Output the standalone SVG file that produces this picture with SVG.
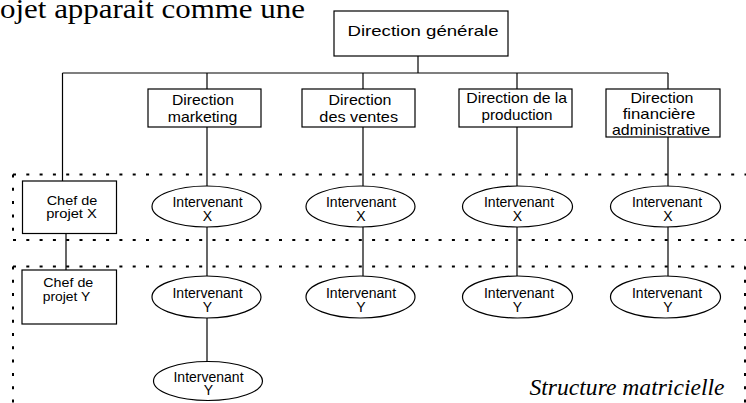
<svg xmlns="http://www.w3.org/2000/svg" width="746" height="403" viewBox="0 0 746 403">
<style>
.box{fill:#fff;stroke:#000;stroke-width:1.2}
.ln{stroke:#000;stroke-width:1.2;fill:none}
.dot{stroke:#000;stroke-width:2;stroke-dasharray:3 10.3;fill:none}
.t{font-family:"Liberation Sans",Arial,sans-serif;font-size:14.5px;text-anchor:middle;fill:#000}
.e{font-family:"Liberation Sans",Arial,sans-serif;font-size:14px;text-anchor:middle;fill:#000}
.c{font-family:"Liberation Sans",Arial,sans-serif;font-size:13.5px;text-anchor:middle;fill:#000}
.serif{font-family:"Liberation Serif","Times New Roman",serif;fill:#000}
</style>
<rect width="746" height="403" fill="#fff"/>
<text class="serif" x="0" y="18" font-size="28" textLength="305" lengthAdjust="spacingAndGlyphs">ojet apparait comme une</text>
<g id="bands">
<line class="dot" x1="13" y1="174.5" x2="746" y2="174.5"/>
<line class="dot" x1="13" y1="174.5" x2="13" y2="240"/>
<line class="dot" x1="13" y1="240" x2="746" y2="240"/>
<line class="dot" x1="13" y1="266.5" x2="745" y2="266.5"/>
<line class="dot" x1="13" y1="266.5" x2="13" y2="403"/>
<line class="dot" x1="745" y1="266.5" x2="745" y2="403"/>
</g>
<g id="connectors">
<line class="ln" x1="418" y1="56" x2="418" y2="73"/>
<line class="ln" x1="62.5" y1="73" x2="668" y2="73"/>
<line class="ln" x1="62.5" y1="73" x2="62.5" y2="181"/>
<line class="ln" x1="207" y1="73" x2="207" y2="89"/>
<line class="ln" x1="363" y1="73" x2="363" y2="89"/>
<line class="ln" x1="517" y1="73" x2="517" y2="89"/>
<line class="ln" x1="668" y1="73" x2="668" y2="89"/>
<line class="ln" x1="207" y1="127" x2="207" y2="186"/>
<line class="ln" x1="363" y1="127" x2="363" y2="186"/>
<line class="ln" x1="517" y1="127" x2="517" y2="186"/>
<line class="ln" x1="668" y1="137" x2="668" y2="186"/>
<line class="ln" x1="207" y1="227" x2="207" y2="276"/>
<line class="ln" x1="363" y1="227" x2="363" y2="276"/>
<line class="ln" x1="517" y1="227" x2="517" y2="276"/>
<line class="ln" x1="668" y1="227" x2="668" y2="276"/>
<line class="ln" x1="207" y1="318" x2="207" y2="361.5"/>
<line class="ln" x1="66" y1="233.5" x2="66" y2="270"/>
</g>
<g id="dg">
<rect class="box" x="334" y="11" width="174" height="45"/>
<text class="t" x="423" y="36" font-size="16" textLength="151" lengthAdjust="spacingAndGlyphs">Direction générale</text>
</g>
<g id="d-marketing">
<rect class="box" x="148" y="89" width="113" height="38"/>
<text class="t" x="203" y="105" textLength="62" lengthAdjust="spacingAndGlyphs">Direction</text>
<text class="t" x="202.5" y="121.5" textLength="69.5" lengthAdjust="spacingAndGlyphs">marketing</text>
</g>
<g id="d-ventes">
<rect class="box" x="302" y="89" width="113" height="38"/>
<text class="t" x="360" y="105" textLength="63" lengthAdjust="spacingAndGlyphs">Direction</text>
<text class="t" x="358.7" y="121.5" textLength="78.7" lengthAdjust="spacingAndGlyphs">des ventes</text>
</g>
<g id="d-production">
<rect class="box" x="459" y="89" width="113" height="38"/>
<text class="t" x="516.7" y="103" textLength="100.7" lengthAdjust="spacingAndGlyphs">Direction de la</text>
<text class="t" x="517" y="119.5" textLength="71" lengthAdjust="spacingAndGlyphs">production</text>
</g>
<g id="d-finance">
<rect class="box" x="606" y="89" width="114" height="48"/>
<text class="t" x="662" y="102.5" textLength="63" lengthAdjust="spacingAndGlyphs">Direction</text>
<text class="t" x="659" y="119" textLength="72.7" lengthAdjust="spacingAndGlyphs">financière</text>
<text class="t" x="661" y="135" textLength="98" lengthAdjust="spacingAndGlyphs">administrative</text>
</g>
<g id="chef-x">
<rect class="box" x="22.5" y="181" width="94" height="52.5"/>
<text class="c" x="72" y="204.5" textLength="50.6" lengthAdjust="spacingAndGlyphs">Chef de</text>
<text class="c" x="71.5" y="218" textLength="50.7" lengthAdjust="spacingAndGlyphs">projet X</text>
</g>
<g id="chef-y">
<rect class="box" x="22" y="270" width="94.5" height="54"/>
<text class="c" x="68.3" y="287" textLength="50" lengthAdjust="spacingAndGlyphs">Chef de</text>
<text class="c" x="66.5" y="301" textLength="47.5" lengthAdjust="spacingAndGlyphs">projet Y</text>
</g>
<g id="ix-marketing">
<ellipse class="box" cx="206.5" cy="206.5" rx="54.5" ry="20.5"/>
<text class="e" x="207.5" y="206.5">Intervenant</text>
<text class="e" x="207.5" y="220.5">X</text>
</g>
<g id="ix-ventes">
<ellipse class="box" cx="360.5" cy="206.5" rx="54.5" ry="20.5"/>
<text class="e" x="361" y="206.5">Intervenant</text>
<text class="e" x="361" y="220.5">X</text>
</g>
<g id="ix-production">
<ellipse class="box" cx="517.5" cy="206.5" rx="55" ry="20.5"/>
<text class="e" x="519" y="206.5">Intervenant</text>
<text class="e" x="517.5" y="220.5">X</text>
</g>
<g id="ix-finance">
<ellipse class="box" cx="665.5" cy="206.5" rx="55" ry="20.5"/>
<text class="e" x="667" y="206.5">Intervenant</text>
<text class="e" x="668" y="220.5">X</text>
</g>
<g id="iy-marketing">
<ellipse class="box" cx="206.5" cy="297" rx="54.5" ry="21"/>
<text class="e" x="207.5" y="297.5">Intervenant</text>
<text class="e" x="207.5" y="311.5">Y</text>
</g>
<g id="iy-ventes">
<ellipse class="box" cx="360.5" cy="297" rx="54.5" ry="21"/>
<text class="e" x="361" y="297.5">Intervenant</text>
<text class="e" x="361" y="311.5">Y</text>
</g>
<g id="iy-production">
<ellipse class="box" cx="517.5" cy="297" rx="55" ry="21"/>
<text class="e" x="519" y="297.5">Intervenant</text>
<text class="e" x="517.5" y="311.5">Y</text>
</g>
<g id="iy-finance">
<ellipse class="box" cx="665.5" cy="297" rx="55" ry="21"/>
<text class="e" x="667" y="297.5">Intervenant</text>
<text class="e" x="668" y="311.5">Y</text>
</g>
<g id="iy-marketing-2">
<ellipse class="box" cx="208" cy="381" rx="54.5" ry="19.5"/>
<text class="e" x="208.5" y="381.5">Intervenant</text>
<text class="e" x="208.5" y="395">Y</text>
</g>
<text class="serif" x="724.5" y="394.5" font-size="23" font-style="italic" text-anchor="end" textLength="195" lengthAdjust="spacingAndGlyphs">Structure matricielle</text>
</svg>
